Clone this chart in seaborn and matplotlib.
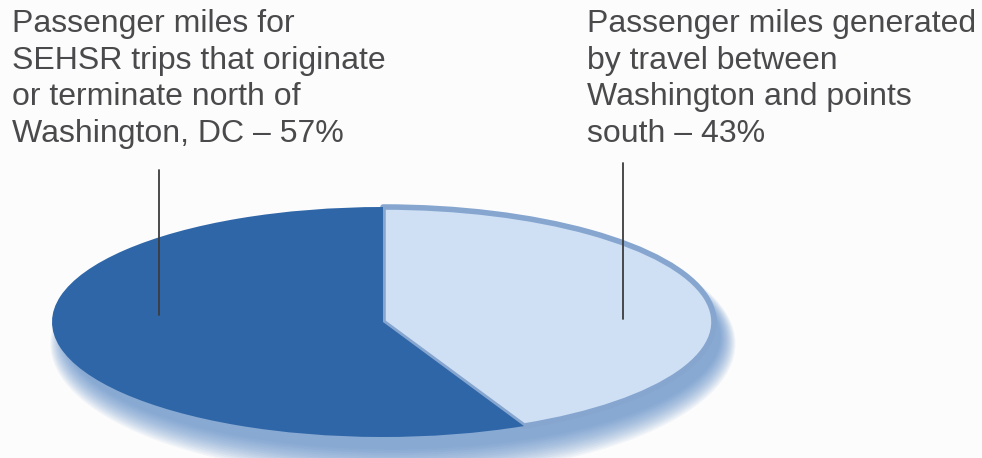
import numpy as np
import matplotlib
matplotlib.use("Agg")
import matplotlib.pyplot as plt
from matplotlib.patches import Ellipse
from matplotlib.lines import Line2D
import seaborn as sns

# ---- data ----
labels = [
    "Passenger miles generated\nby travel between\nWashington and points\nsouth \u2013 43%",
    "Passenger miles for\nSEHSR trips that originate\nor terminate north of\nWashington, DC \u2013 57%",
]
shares = [43, 57]
colors = ["#cfe0f5", "#2f66a8"]

sns.set_theme(style="white")
plt.rcParams["font.family"] = ["Liberation Sans", "DejaVu Sans"]

W, H = 982, 458
fig = plt.figure(figsize=(W / 100, H / 100), dpi=100, facecolor="#fcfcfc")

# pie ellipse geometry (pixels)
cx, cy, a, b = 383, 322, 331, 115
ax = fig.add_axes([(cx - a) / W, (H - cy - b) / H, 2 * a / W, 2 * b / H])
ax.set_facecolor("none")

# soft shadow, mostly below the disc
for i in range(16):
    ax.add_patch(Ellipse((0.03, -0.13 - 0.004 * i), 2 * (0.99 + 0.003 * i),
                         2 * (0.98 + 0.012 * i),
                         facecolor="#4a7fc2", edgecolor="none",
                         alpha=0.06, clip_on=False, zorder=0))

wedges, _ = ax.pie(shares, colors=colors, startangle=90, counterclock=False,
                   radius=1, wedgeprops=dict(linewidth=0))
wedges[0].set_edgecolor("#86a6d0")
wedges[0].set_linewidth(4)
wedges[0].set_joinstyle("round")
for w in wedges:
    w.set_zorder(2)
ax.set_aspect("auto")
ax.set_xlim(-1, 1)
ax.set_ylim(-1, 1)
ax.axis("off")

# labels
txt_kw = dict(fontsize=23, color="#4a4a4c", va="top", ha="left", linespacing=1.29)
fig.text(12 / W, 1 - 9 / H, labels[1], **txt_kw)
fig.text(587 / W, 1 - 9 / H, labels[0], **txt_kw)

# leader lines (data coords of the pie axes)
ax.add_line(Line2D([-0.677, -0.677], [0.06, 1.32], color="#3c3c3c", lw=1.3,
                   clip_on=False, zorder=3))
ax.add_line(Line2D([0.725, 0.725], [0.03, 1.38], color="#3c3c3c", lw=1.3,
                   clip_on=False, zorder=3))

fig.savefig("out.png", dpi=100, facecolor=fig.get_facecolor())
